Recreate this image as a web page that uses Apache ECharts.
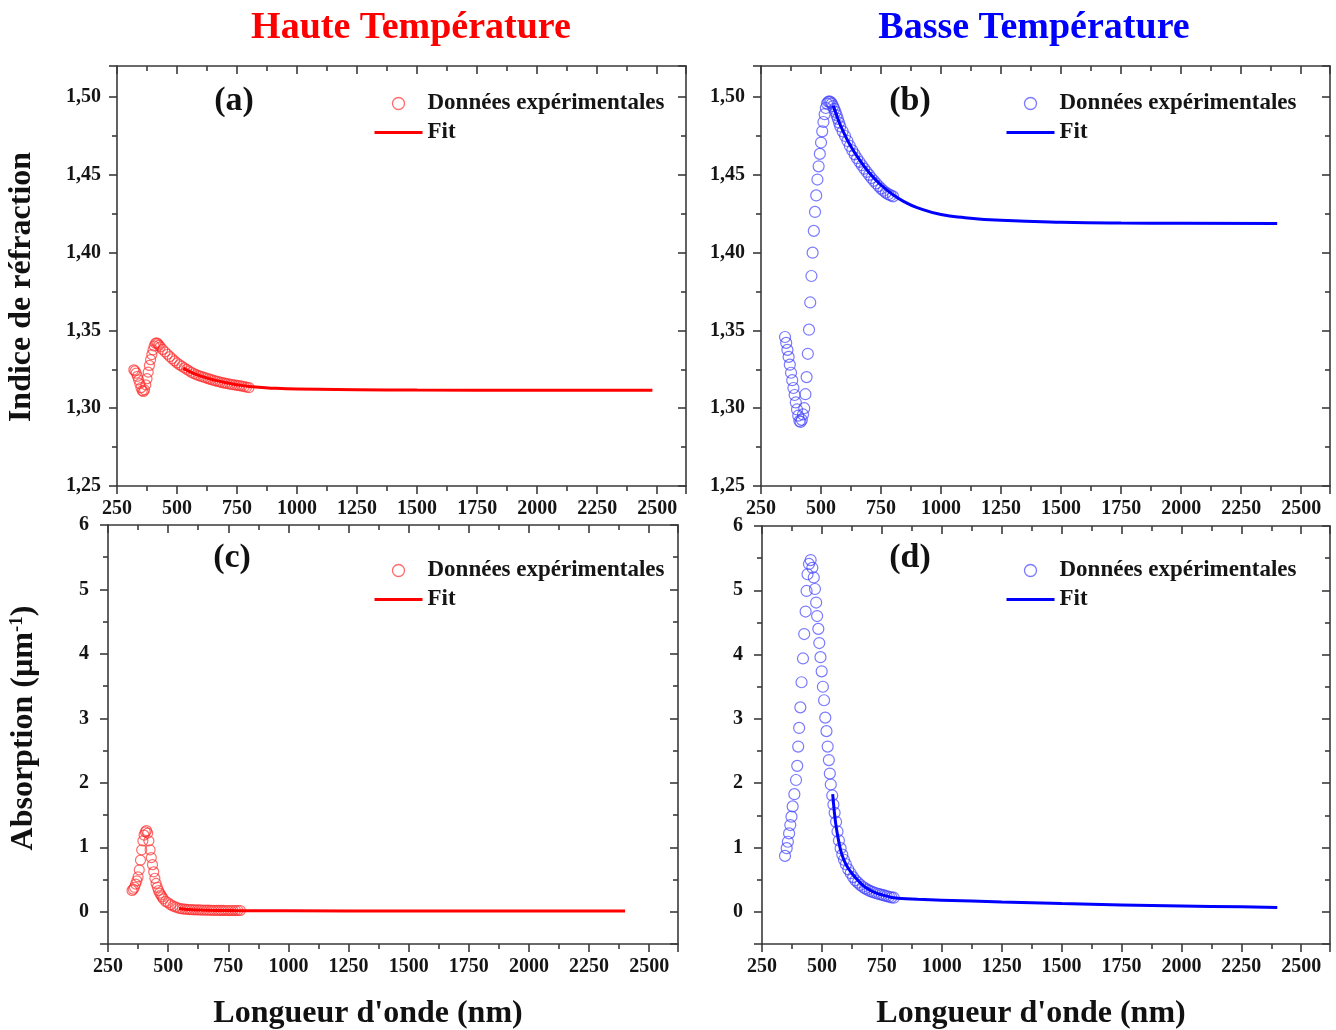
<!DOCTYPE html>
<html><head><meta charset="utf-8">
<script src="https://cdn.jsdelivr.net/npm/echarts@6/dist/echarts.min.js"></script>
<style>html,body{margin:0;padding:0;background:#fff}#c{width:1336px;height:1030px}</style>
</head><body><div id="c"></div>
<script>
// ---------- DATA ----------
const xTickLabels = [250,500,750,1000,1250,1500,1750,2000,2250,2500];
const nTickLabels = ['1,25','1,30','1,35','1,40','1,45','1,50'];
const kTickLabels = [0,1,2,3,4,5,6];

// (a) Haute Température - indice
const aExpNm = [320,325,330,335,340,345,350,355,360,365,370,375,380,385,390,395,400,405,410,415,420,425,430,
  440,450,460,470,480,490,500,510,520,530,540,550,560,570,580,590,600,
  610,620,630,640,650,660,670,680,690,700,710,720,730,740,750,760,770,780,790,800];
const aExpN = [1.3247,1.3240,1.3225,1.3205,1.3182,1.3158,1.3132,1.3113,1.3108,1.3118,1.3150,1.3190,1.3232,1.3275,1.3312,1.3345,1.3375,1.3400,1.3417,1.3420,1.3415,1.3405,1.3395,
  1.3378,1.3362,1.3347,1.3332,1.3318,1.3304,1.3291,1.3280,1.3270,1.3260,1.3250,1.3240,1.3231,1.3223,1.3216,1.3210,1.3205,
  1.3200,1.3195,1.3190,1.3185,1.3180,1.3176,1.3172,1.3168,1.3164,1.3161,1.3158,1.3155,1.3152,1.3150,1.3147,1.3145,1.3142,1.3139,1.3136,1.3133];
const aFitNm = [526,540,560,580,600,625,650,700,750,800,900,1000,1250,1500,2000,2480];
const aFitN = [1.3258,1.3246,1.3230,1.3217,1.3206,1.3194,1.3183,1.3165,1.3151,1.3140,1.3129,1.3123,1.3119,1.3117,1.3116,1.3116];

// (b) Basse Température - indice
const bExpNm = [350,355,360,365,370,375,380,385,390,395,400,405,410,415,420,425,430,435,440,445,450,455,460,465,470,475,480,485,490,495,500,505,510,515,520,525,530,535,540,545,550,555,560,565,570,575,580,
  590,600,610,620,630,640,650,660,670,680,690,700,710,720,730,740,750,760,770,780,790,800];
const bExpN = [1.3458,1.3420,1.3375,1.3330,1.3280,1.3228,1.3180,1.3130,1.3085,1.3037,1.2992,1.2952,1.2918,1.2912,1.2925,1.2960,1.3000,1.3090,1.3200,1.3350,1.3505,1.3680,1.3850,1.4000,1.4140,1.4262,1.4368,1.4470,1.4555,1.4635,1.4708,1.4780,1.4840,1.4890,1.4930,1.4958,1.4970,1.4972,1.4968,1.4958,1.4942,1.4925,1.4905,1.4883,1.4860,1.4836,1.4812,
  1.4780,1.4750,1.4718,1.4686,1.4658,1.4632,1.4607,1.4584,1.4562,1.4540,1.4520,1.4500,1.4480,1.4462,1.4445,1.4428,1.4412,1.4398,1.4386,1.4376,1.4368,1.4362];
const bFitNm = [551,560,580,600,620,650,700,750,800,850,900,1000,1100,1250,1500,1750,2000,2400];
const bFitN = [1.4944,1.4905,1.4822,1.4755,1.4695,1.4620,1.4515,1.4435,1.4372,1.4325,1.4290,1.4245,1.4225,1.4208,1.4195,1.4190,1.4189,1.4188];

// (c) Haute Température - absorption
const cExpNm = [350,355,360,365,370,375,380,385,390,395,400,405,410,415,420,425,430,435,440,445,450,455,460,465,470,475,480,
  490,500,510,520,530,540,550,560,570,580,590,600,610,620,630,640,650,660,670,680,690,700,710,720,730,740,750,760,770,780,790,800];
const cExpA = [0.33,0.35,0.38,0.43,0.48,0.54,0.65,0.80,0.96,1.10,1.19,1.24,1.26,1.22,1.10,0.96,0.84,0.73,0.62,0.52,0.44,0.38,0.33,0.29,0.26,0.23,0.20,
  0.16,0.14,0.11,0.09,0.075,0.06,0.05,0.045,0.04,0.037,0.034,0.032,0.030,0.029,0.028,0.027,0.026,0.025,0.024,0.023,0.0225,0.022,0.0215,0.021,0.0205,0.020,0.020,0.020,0.020,0.020,0.020,0.020];
const cFitNm = [545,560,580,600,650,700,800,1000,1500,2000,2400];
const cFitA = [0.05,0.043,0.036,0.031,0.025,0.021,0.017,0.014,0.011,0.010,0.010];

// (d) Basse Température - absorption
const dExpNm = [346,353,358,363,368,373,378,385,392,397,401,405,410,415,421,426,432,436,440,446,453,460,466,471,476,480,485,489,494,499,504,509,514,519,524,529,533,537,543,548,553,559,565,571,578,585,592,
  600,610,620,630,640,650,660,670,680,690,700,710,720,730,740,750,760,770,780,790,800];
const dExpA = [0.87,0.99,1.09,1.22,1.35,1.48,1.64,1.83,2.05,2.27,2.57,2.86,3.18,3.57,3.94,4.32,4.67,4.99,5.25,5.41,5.47,5.35,5.20,5.02,4.81,4.60,4.40,4.18,3.96,3.74,3.50,3.29,3.02,2.81,2.57,2.36,2.15,1.98,1.81,1.67,1.54,1.40,1.25,1.11,0.99,0.89,0.81,
  0.74,0.66,0.60,0.54,0.49,0.455,0.42,0.39,0.365,0.345,0.325,0.31,0.297,0.285,0.275,0.265,0.255,0.245,0.235,0.225,0.22];
const dFitNm = [545,550,555,560,570,582,600,625,650,675,700,725,750,775,800,850,900,1000,1250,1500,1750,2000,2250,2400];
const dFitA = [1.83,1.62,1.45,1.31,1.10,0.91,0.74,0.60,0.49,0.40,0.34,0.295,0.265,0.24,0.22,0.205,0.195,0.182,0.153,0.128,0.108,0.092,0.078,0.068];

// ---------- STYLE ----------
const FONT = '"Liberation Serif","Times New Roman",serif';
const RED = '#ff0000', BLUE = '#0000ff';
const RED_RING = 'rgba(255,40,40,0.85)', BLUE_RING = 'rgba(60,60,255,0.85)';
const AX = '#3a3a3a';
const zip = (xs, ys) => xs.map((x, i) => [x, ys[i]]);

const grids = [
  {left:117, top:66, width:569, height:420},
  {left:761, top:66, width:569, height:420},
  {left:108, top:525, width:570, height:419},
  {left:762, top:526, width:568, height:418}
];

const lineSt = {color: AX, width: 1.6};
function xAxes(g) {
  const base = {
    type:'value', gridIndex:g, min:250, max:2620, interval:250,
    splitLine:{show:false},
    axisLine:{show:true, onZero:false, lineStyle:lineSt},
    minorTick:{show:true, splitNumber:2, length:5, lineStyle:lineSt}
  };
  return [
    Object.assign({}, base, {position:'bottom',
      axisTick:{show:true, length:8, lineStyle:lineSt},
      axisLabel:{show:true, margin:13, fontFamily:FONT, fontWeight:'bold', fontSize:20, color:'#151515',
        formatter: v => xTickLabels.indexOf(Math.round(v)) >= 0 && Math.abs(v - Math.round(v)) < 1e-6 ? String(Math.round(v)) : ''}}),
    Object.assign({}, base, {position:'top',
      axisTick:{show:true, inside:true, length:8, lineStyle:lineSt},
      axisLabel:{show:false}})
  ];
}
function nAxes(g) {
  const base = {
    type:'value', gridIndex:g, min:1.25, max:1.52, interval:0.05,
    splitLine:{show:false},
    axisLine:{show:true, onZero:false, lineStyle:lineSt},
    minorTick:{show:true, splitNumber:2, length:5, lineStyle:lineSt}
  };
  return [
    Object.assign({}, base, {position:'left',
      axisTick:{show:true, length:8, lineStyle:lineSt},
      axisLabel:{show:true, margin:16, fontFamily:FONT, fontWeight:'bold', fontSize:20, color:'#151515',
        formatter: v => { const k = Math.round((v - 1.25) / 0.05); return Math.abs(v - 1.25 - k*0.05) < 1e-6 && nTickLabels[k] ? nTickLabels[k] : ''; }}}),
    Object.assign({}, base, {position:'right',
      axisTick:{show:true, inside:true, length:8, lineStyle:lineSt},
      axisLabel:{show:false}})
  ];
}
// absorption: displayed axes are inverted (-6 .. 0.5) so ticks fall on integers; data on a hidden axis (-0.5 .. 6)
function kAxes(g) {
  const base = {
    type:'value', gridIndex:g, min:-6, max:0.5, interval:1, inverse:true,
    splitLine:{show:false},
    axisLine:{show:true, onZero:false, lineStyle:lineSt},
    minorTick:{show:true, splitNumber:2, length:5, lineStyle:lineSt}
  };
  return [
    Object.assign({}, base, {position:'left',
      axisTick:{show:true, length:8, lineStyle:lineSt},
      axisLabel:{show:true, margin:19, fontFamily:FONT, fontWeight:'bold', fontSize:20, color:'#151515',
        formatter: v => { const r = Math.round(v); return Math.abs(v - r) < 1e-6 && kTickLabels.indexOf(-r) >= 0 ? String(-r) : ''; }}}),
    Object.assign({}, base, {position:'right',
      axisTick:{show:true, inside:true, length:8, lineStyle:lineSt},
      axisLabel:{show:false}}),
    {type:'value', gridIndex:g, min:-0.5, max:6, show:false, position:'left', splitLine:{show:false}}
  ];
}

const xAxis = [].concat(xAxes(0), xAxes(1), xAxes(2), xAxes(3));
const yAxis = [].concat(nAxes(0), nAxes(1), kAxes(2), kAxes(3)); // 0,1 | 2,3 | 4,5,6 | 7,8,9

function scatter(name, xi, yi, data, ring, size) {
  return {type:'scatter', name, xAxisIndex:xi, yAxisIndex:yi, data, symbol:'circle', symbolSize:size,
    itemStyle:{color:'rgba(255,255,255,0)', borderColor:ring, borderWidth:1.2}, z:2, silent:true};
}
function fit(name, xi, yi, data, color) {
  return {type:'line', name, xAxisIndex:xi, yAxisIndex:yi, data, symbol:'none', showSymbol:false,
    smooth:0.5, lineStyle:{color, width:3}, itemStyle:{color}, z:3, silent:true};
}

const series = [
  scatter('a_exp', 0, 0, zip(aExpNm, aExpN), RED_RING, 10),
  fit('a_fit', 0, 0, zip(aFitNm, aFitN), RED),
  scatter('b_exp', 2, 2, zip(bExpNm, bExpN), BLUE_RING, 11),
  fit('b_fit', 2, 2, zip(bFitNm, bFitN), BLUE),
  scatter('c_exp', 4, 6, zip(cExpNm, cExpA), RED_RING, 10),
  fit('c_fit', 4, 6, zip(cFitNm, cFitA), RED),
  scatter('d_exp', 6, 9, zip(dExpNm, dExpA), BLUE_RING, 11),
  fit('d_fit', 6, 9, zip(dFitNm, dFitA), BLUE)
];

const HIDE = {color:'rgba(0,0,0,0)', borderColor:'rgba(0,0,0,0)', borderWidth:0, opacity:0};
function legend(p, left, top, ring, color) {
  return {
    orient:'vertical', left, top, itemWidth:48, itemHeight:12, itemGap:6, selectedMode:false,
    formatter: n => n.endsWith('exp') ? 'Données expérimentales' : 'Fit',
    textStyle:{fontFamily:FONT, fontWeight:'bold', fontSize:23, lineHeight:22, color:'#151515'},
    data:[
      {name:p+'_exp', icon:'circle', itemStyle:{color:'rgba(255,255,255,0)', borderColor:ring, borderWidth:1.3}},
      {name:p+'_fit', itemStyle:HIDE, lineStyle:{color, width:3}}
    ]
  };
}

const tFont = 'bold 38px ' + FONT;
const pFont = 'bold 34px ' + FONT;
const aFont = 'bold 32px ' + FONT;
const graphic = [
  {type:'text', x:411, y:28, style:{text:'Haute Température', fill:RED, font:tFont, textAlign:'center', textVerticalAlign:'middle'}},
  {type:'text', x:1034, y:28, style:{text:'Basse Température', fill:BLUE, font:tFont, textAlign:'center', textVerticalAlign:'middle'}},
  {type:'text', x:234, y:101, style:{text:'(a)', fill:'#111', font:pFont, textAlign:'center', textVerticalAlign:'middle'}},
  {type:'text', x:910, y:101, style:{text:'(b)', fill:'#111', font:pFont, textAlign:'center', textVerticalAlign:'middle'}},
  {type:'text', x:232, y:558, style:{text:'(c)', fill:'#111', font:pFont, textAlign:'center', textVerticalAlign:'middle'}},
  {type:'text', x:910, y:558, style:{text:'(d)', fill:'#111', font:pFont, textAlign:'center', textVerticalAlign:'middle'}},
  {type:'text', x:22, y:287, rotation:Math.PI/2, style:{text:'Indice de réfraction', fill:'#111', font:aFont, textAlign:'center', textVerticalAlign:'middle'}},
  {type:'text', x:24, y:728, rotation:Math.PI/2, style:{text:'Absorption (µm{sup|-1})', fill:'#111', font:aFont, textAlign:'center', textVerticalAlign:'middle',
    rich:{sup:{fontFamily:FONT, fontWeight:'bold', fontSize:19, verticalAlign:'top', fill:'#111'}}}},
  {type:'text', x:368, y:1014, style:{text:"Longueur d'onde (nm)", fill:'#111', font:aFont, textAlign:'center', textVerticalAlign:'middle'}},
  {type:'text', x:1031, y:1014, style:{text:"Longueur d'onde (nm)", fill:'#111', font:aFont, textAlign:'center', textVerticalAlign:'middle'}}
];

const chart = echarts.init(document.getElementById('c'), null, {renderer:'canvas'});
chart.setOption({
  backgroundColor:'#ffffff',
  animation:false,
  grid: grids,
  xAxis, yAxis, series,
  legend:[
    legend('a', 368, 87, RED_RING, RED),
    legend('b', 1000, 87, BLUE_RING, BLUE),
    legend('c', 368, 554, RED_RING, RED),
    legend('d', 1000, 554, BLUE_RING, BLUE)
  ],
  graphic
});
</script></body></html>
